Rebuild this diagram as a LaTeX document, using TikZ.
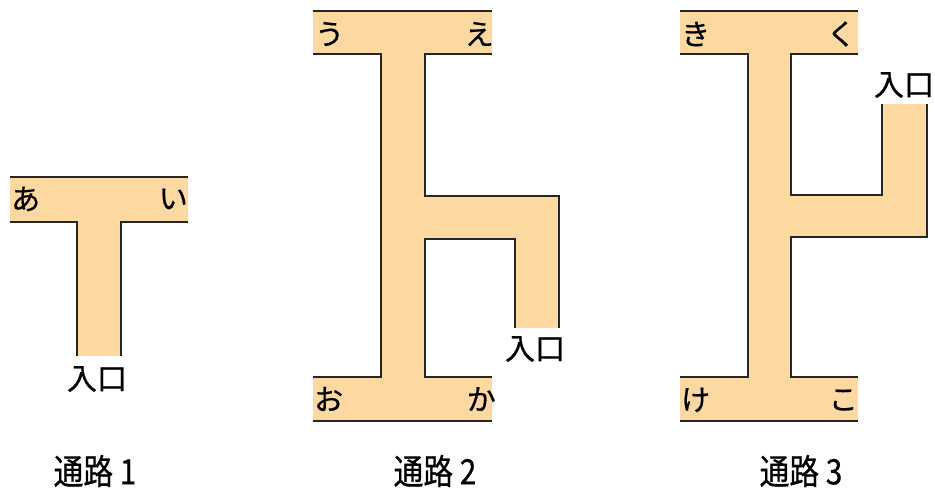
\documentclass[tikz,border=0pt]{standalone}
\usepackage{fontspec}
\newfontfamily\jp[FakeBold=0.6]{Noto Sans CJK JP}
\newfontfamily\jpn[FakeStretch=0.85,FakeBold=0.6]{Noto Sans CJK JP}
\definecolor{path}{RGB}{253,216,160}
\begin{document}
\begin{tikzpicture}[x=1pt,y=-1pt,
  wall/.style={line width=2.4pt,black!85},
  floor/.style={fill=path},
  kana/.style={font=\jp\fontsize{29}{29}\selectfont,inner sep=0pt},
  entry/.style={font=\jp\fontsize{30}{30}\selectfont,inner sep=0pt},
  title/.style={font=\jpn\fontsize{35}{35}\selectfont,inner sep=0pt}]
\useasboundingbox (0,0) rectangle (935,491);
% Passage 1
\fill[floor] (10,177)--(188,177)--(188,222)--(121,222)--(121,356)--(77,356)--(77,222)--(10,222)--cycle;
\draw[wall] (10,177)--(188,177);
\draw[wall] (10,222)--(77,222)--(77,356);
\draw[wall] (188,222)--(121,222)--(121,356);
% Passage 2
\fill[floor] (313,11)--(492,11)--(492,54)--(425,54)--(425,196)--(559,196)--(559,328)--(515,328)--(515,239)--(425,239)--(425,377)--(492,377)--(492,421)--(313,421)--(313,377)--(381,377)--(381,54)--(313,54)--cycle;
\draw[wall] (313,11)--(492,11);
\draw[wall] (313,54)--(381,54)--(381,377)--(313,377);
\draw[wall] (492,54)--(425,54)--(425,196)--(559,196)--(559,328);
\draw[wall] (515,328)--(515,239)--(425,239)--(425,377)--(492,377);
\draw[wall] (313,421)--(492,421);
% Passage 3
\fill[floor] (680,11)--(858,11)--(858,54)--(791,54)--(791,195)--(882,195)--(882,104)--(927,104)--(927,237)--(791,237)--(791,377)--(858,377)--(858,421)--(680,421)--(680,377)--(748,377)--(748,54)--(680,54)--cycle;
\draw[wall] (680,11)--(858,11);
\draw[wall] (680,54)--(748,54)--(748,377)--(680,377);
\draw[wall] (858,54)--(791,54)--(791,195)--(882,195)--(882,104);
\draw[wall] (927,104)--(927,237)--(791,237)--(791,377)--(858,377);
\draw[wall] (680,421)--(858,421);
% labels
\node[kana,anchor=west] (a) at (11,199) {あ};
\node[kana,anchor=east] (i) at (188,199) {い};
\node[kana,anchor=west] (u) at (315,34) {う};
\node[kana,anchor=east] (e) at (494,34) {え};
\node[kana,anchor=west] (o) at (314,399) {お};
\node[kana,anchor=east] (ka) at (496,399) {か};
\node[kana,anchor=west] (ki) at (681,34) {き};
\node[kana,anchor=east] (ku) at (856,34) {く};
\node[kana,anchor=west] (ke) at (681,400) {け};
\node[kana,anchor=east] (ko) at (858,400) {こ};
\node[entry] (in1) at (97,379) {入口};
\node[entry] (in2) at (535,349) {入口};
\node[entry] (in3) at (904,85) {入口};
\node[title] (t1) at (95,471) {通路 1};
\node[title] (t2) at (435,471) {通路 2};
\node[title] (t3) at (801,471) {通路 3};
\end{tikzpicture}
\end{document}
